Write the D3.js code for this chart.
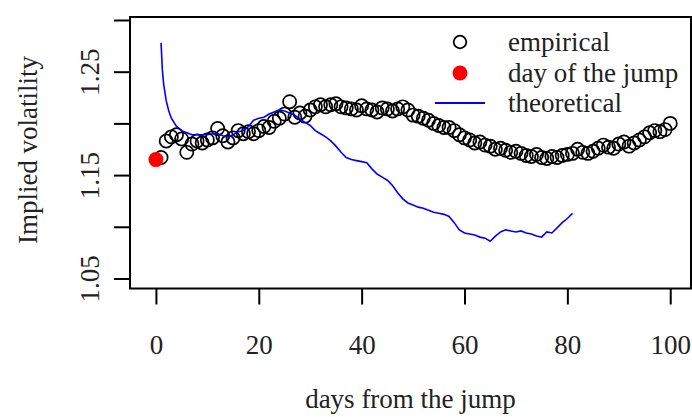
<!DOCTYPE html>
<html><head><meta charset="utf-8">
<script src="https://cdn.jsdelivr.net/npm/d3@7"></script>
<style>html,body{margin:0;padding:0;background:#fff;} svg{display:block;}</style>
</head><body>
<script>
// ---- data ----
const jumpDay = [0];
const jumpValue = [1.165];
const empiricalValues = [1.167,1.183,1.187,1.189,1.185,1.172,1.180,1.183,1.181,1.184,
 1.186,1.195,1.188,1.182,1.186,1.193,1.190,1.192,1.190,1.193,
 1.197,1.196,1.202,1.205,1.209,1.221,1.206,1.210,1.207,1.213,
 1.216,1.218,1.216,1.218,1.219,1.216,1.215,1.214,1.213,1.217,
 1.214,1.213,1.211,1.215,1.214,1.212,1.214,1.216,1.213,1.208,
 1.207,1.205,1.203,1.200,1.198,1.196,1.196,1.193,1.189,1.186,
 1.184,1.181,1.182,1.179,1.178,1.175,1.176,1.174,1.172,1.173,
 1.171,1.169,1.168,1.170,1.167,1.166,1.168,1.167,1.169,1.170,
 1.171,1.175,1.172,1.171,1.173,1.176,1.179,1.177,1.176,1.180,
 1.182,1.178,1.181,1.184,1.187,1.191,1.193,1.192,1.194,1.200];
const empiricalDays = d3.range(1, 101);
const theoryDays = [1,1.25,1.5,2,2.5,3,4,5,6,7,8,9,10,11,12,13,14,15,16,17,18,19,20,
 21,22,23,24,25,26,27,28,29,30,31,32,33,34,35,36,37,38,39,40,41,42,43,44,45,46,47,48,49,50,
 51,52,53,54,55,56,57,58,59,60,61,62,63,64,65,66,67,68,69,70,71,72,73,74,75,76,77,78,79,80,81];
const theoryValues = [1.278,1.252,1.238,1.222,1.212,1.205,1.197,1.193,1.191,1.189,1.189,1.189,1.189,1.190,1.190,
 1.188,1.187,1.189,1.192,1.193,1.197,1.203,1.205,1.206,1.209,1.211,1.213,1.212,1.210,1.208,
 1.204,1.201,1.198,1.193,1.190,1.187,1.183,1.178,1.172,1.167,1.165,1.164,1.163,1.162,1.156,
 1.151,1.148,1.145,1.140,1.133,1.127,1.123,1.121,1.119,1.118,1.116,1.114,1.113,1.112,1.110,
 1.104,1.097,1.094,1.093,1.092,1.090,1.089,1.086,1.091,1.095,1.097,1.096,1.095,1.096,1.094,
 1.093,1.091,1.090,1.095,1.094,1.099,1.104,1.108,1.113];
const xTicks = [0,20,40,60,80,100];
const yTicks = [1.05,1.10,1.15,1.20,1.25,1.30];
const yTickLabels = ["1.05","","1.15","","1.25",""];
const legendLabels = ["empirical","day of the jump","theoretical"];
const xTitle = "days from the jump";
const yTitle = "Implied volatility";

// ---- layout ----
const W = 692, H = 417;
const L = 130, R = 691, T = 17, B = 288.5;
const font = "'Liberation Serif', 'Times New Roman', serif";
const fs = 27;

const svg = d3.select("body").append("svg").attr("width", W).attr("height", H);
svg.append("rect").attr("width", W).attr("height", H).attr("fill", "#fff");

const x = d3.scaleLinear().domain([-5.04, 104.04]).range([L, R]);
const y = d3.scaleLinear().domain([1.0403, 1.3029]).range([B, T]);

// x axis
const xAxis = svg.append("g").attr("transform", `translate(0,${B})`)
  .call(d3.axisBottom(x).tickValues(xTicks).tickSize(16).tickPadding(30).tickFormat(d3.format("d")));
xAxis.select(".domain").remove();
xAxis.selectAll("line").attr("stroke", "#000").attr("stroke-width", 2);
xAxis.selectAll("text").attr("font-family", font).attr("font-size", fs).attr("fill", "#222");

// y axis
const yAxis = svg.append("g").attr("transform", `translate(${L},0)`)
  .call(d3.axisLeft(y).tickValues(yTicks).tickSize(16).tickFormat((d, i) => yTickLabels[i]));
yAxis.select(".domain").remove();
yAxis.selectAll("line").attr("stroke", "#000").attr("stroke-width", 2);
yAxis.selectAll("text")
  .attr("font-family", font).attr("font-size", fs).attr("fill", "#222")
  .attr("text-anchor", "middle").attr("dy", null)
  .attr("transform", "translate(-31,0) rotate(-90)")
  .attr("x", 0).attr("y", 0);

// box
svg.append("rect").attr("x", L).attr("y", T).attr("width", R - L).attr("height", B - T)
  .attr("fill", "none").attr("stroke", "#000").attr("stroke-width", 2);

// titles
svg.append("text").attr("x", (L + R) / 2).attr("y", 408)
  .attr("text-anchor", "middle").attr("font-family", font).attr("font-size", fs).attr("fill", "#222")
  .text(xTitle);
svg.append("text").attr("transform", `translate(37,150) rotate(-90)`)
  .attr("text-anchor", "middle").attr("font-family", font).attr("font-size", fs).attr("fill", "#222")
  .text(yTitle);

// empirical circles
svg.append("g").selectAll("circle").data(empiricalDays).join("circle")
  .attr("cx", d => x(d)).attr("cy", (d, i) => y(empiricalValues[i]))
  .attr("r", 6.6).attr("fill", "none").attr("stroke", "#000").attr("stroke-width", 1.7);

// theoretical line
const line = d3.line().x(d => x(d[0])).y(d => y(d[1]));
svg.append("path").datum(theoryDays.map((d, i) => [d, theoryValues[i]]))
  .attr("d", line).attr("fill", "none").attr("stroke", "#0000ff").attr("stroke-width", 1.6);

// jump day
svg.append("g").selectAll("circle").data(jumpDay).join("circle")
  .attr("cx", d => x(d)).attr("cy", (d, i) => y(jumpValue[i]))
  .attr("r", 7.5).attr("fill", "#ff0000");

// legend
const lg = svg.append("g");
const rows = [42, 73, 103];
lg.append("circle").attr("cx", 460).attr("cy", rows[0]).attr("r", 6.3)
  .attr("fill", "none").attr("stroke", "#000").attr("stroke-width", 1.8);
lg.append("circle").attr("cx", 460).attr("cy", rows[1]).attr("r", 7.5).attr("fill", "#ff0000");
lg.append("line").attr("x1", 435).attr("x2", 485).attr("y1", rows[2]).attr("y2", rows[2])
  .attr("stroke", "#0000ff").attr("stroke-width", 2.2);
lg.selectAll("text").data(legendLabels).join("text")
  .attr("x", 508).attr("y", (d, i) => rows[i]).attr("dy", "0.32em")
  .attr("font-family", font).attr("font-size", fs).attr("fill", "#222").text(d => d);
</script>
</body></html>
